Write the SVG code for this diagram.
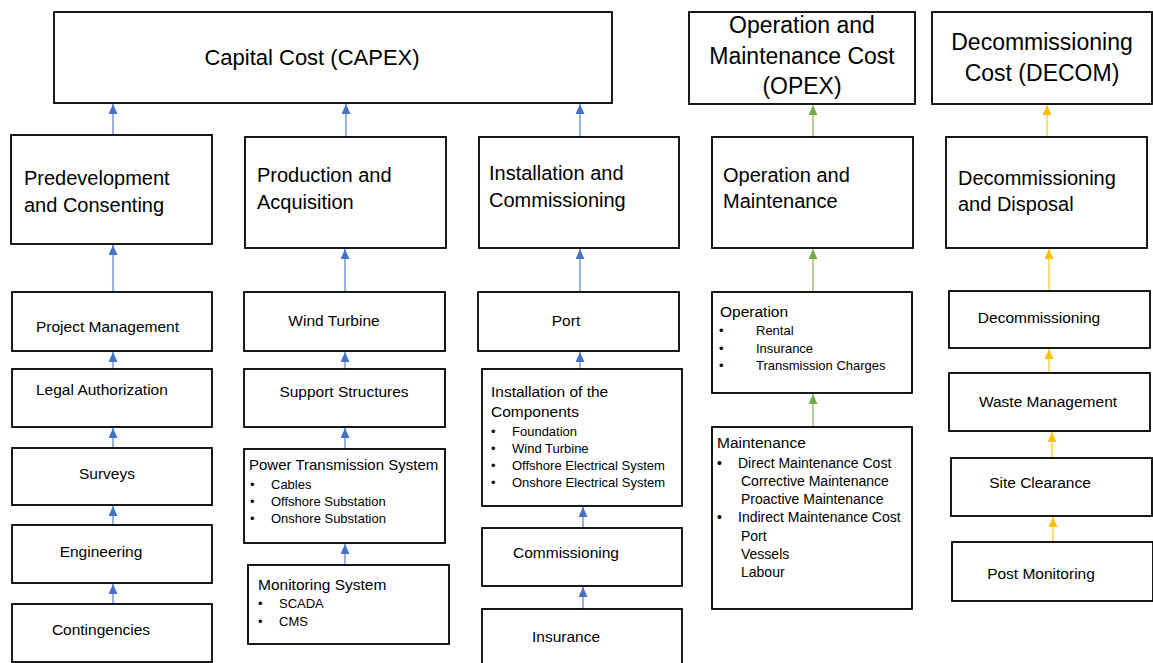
<svg xmlns="http://www.w3.org/2000/svg" width="1153" height="663" viewBox="0 0 1153 663">
<style>
.box{fill:#fff;stroke:#000;stroke-width:1.8}
text{font-family:"Liberation Sans",Arial,sans-serif;fill:#000}
.h1{font-size:22px}
.h2{font-size:23px}
.t2{font-size:20px}
.t3{font-size:15.5px}
.it{font-size:13px}
.it14{font-size:14px}
.c{text-anchor:middle}
.b{stroke:#4472C4;stroke-width:1.1;fill:none}
.g{stroke:#70AD47;stroke-width:1.1;fill:none}
.y{stroke:#FFC000;stroke-width:1.1;fill:none}
</style>
<defs>
<marker id="ab" markerUnits="userSpaceOnUse" markerWidth="10" markerHeight="10" refX="10" refY="4.5" orient="auto"><path d="M0,0 L10,4.5 L0,9 z" fill="#4472C4"/></marker>
<marker id="ag" markerUnits="userSpaceOnUse" markerWidth="10" markerHeight="10" refX="10" refY="4.5" orient="auto"><path d="M0,0 L10,4.5 L0,9 z" fill="#70AD47"/></marker>
<marker id="ay" markerUnits="userSpaceOnUse" markerWidth="10" markerHeight="10" refX="10" refY="4.5" orient="auto"><path d="M0,0 L10,4.5 L0,9 z" fill="#FFC000"/></marker>
</defs>
<rect width="1153" height="663" fill="#fff"/>

<g id="connectors">
<line class="b" x1="113" y1="135" x2="113" y2="104" marker-end="url(#ab)"/>
<line class="b" x1="346" y1="137" x2="346" y2="104" marker-end="url(#ab)"/>
<line class="b" x1="580" y1="137" x2="580" y2="104" marker-end="url(#ab)"/>
<line class="b" x1="113" y1="292" x2="113" y2="245" marker-end="url(#ab)"/>
<line class="b" x1="113" y1="369" x2="113" y2="352" marker-end="url(#ab)"/>
<line class="b" x1="113" y1="448" x2="113" y2="428" marker-end="url(#ab)"/>
<line class="b" x1="113" y1="525" x2="113" y2="506" marker-end="url(#ab)"/>
<line class="b" x1="113" y1="604" x2="113" y2="584" marker-end="url(#ab)"/>
<line class="b" x1="345" y1="292" x2="345" y2="249" marker-end="url(#ab)"/>
<line class="b" x1="345" y1="369" x2="345" y2="352" marker-end="url(#ab)"/>
<line class="b" x1="345" y1="449" x2="345" y2="428" marker-end="url(#ab)"/>
<line class="b" x1="345" y1="565" x2="345" y2="544" marker-end="url(#ab)"/>
<line class="b" x1="580" y1="292" x2="580" y2="249" marker-end="url(#ab)"/>
<line class="b" x1="580" y1="369" x2="580" y2="352" marker-end="url(#ab)"/>
<line class="b" x1="583" y1="528" x2="583" y2="507" marker-end="url(#ab)"/>
<line class="b" x1="583" y1="609" x2="583" y2="587" marker-end="url(#ab)"/>
<line class="g" x1="813" y1="137" x2="813" y2="105" marker-end="url(#ag)"/>
<line class="g" x1="813" y1="292" x2="813" y2="249" marker-end="url(#ag)"/>
<line class="g" x1="813" y1="427" x2="813" y2="394" marker-end="url(#ag)"/>
<line class="y" x1="1047" y1="137" x2="1047" y2="105" marker-end="url(#ay)"/>
<line class="y" x1="1049" y1="291" x2="1049" y2="249" marker-end="url(#ay)"/>
<line class="y" x1="1049" y1="373" x2="1049" y2="349" marker-end="url(#ay)"/>
<line class="y" x1="1052" y1="458" x2="1052" y2="432" marker-end="url(#ay)"/>
<line class="y" x1="1053" y1="542" x2="1053" y2="517" marker-end="url(#ay)"/>
</g>

<g id="capex"><rect class="box" x="54" y="12" width="558" height="91"/><text class="h1 c" x="312" y="65">Capital Cost (CAPEX)</text></g>
<g id="opex"><rect class="box" x="689" y="12" width="226" height="92"/>
<text class="h2 c" x="802" y="33">Operation and</text><text class="h2 c" x="802" y="64">Maintenance Cost</text><text class="h2 c" x="802" y="94">(OPEX)</text></g>
<g id="decom"><rect class="box" x="932" y="12" width="220" height="92"/>
<text class="h2 c" x="1042" y="50">Decommissioning</text><text class="h2 c" x="1042" y="81">Cost (DECOM)</text></g>

<g id="predev"><rect class="box" x="11" y="135" width="201" height="109"/><text class="t2" x="24" y="185">Predevelopment</text><text class="t2" x="24" y="212">and Consenting</text></g>
<g id="production"><rect class="box" x="245" y="137" width="201" height="111"/><text class="t2" x="257" y="182">Production and</text><text class="t2" x="257" y="209">Acquisition</text></g>
<g id="installation"><rect class="box" x="479" y="137" width="200" height="111"/><text class="t2" x="489" y="180">Installation and</text><text class="t2" x="489" y="207">Commissioning</text></g>
<g id="om"><rect class="box" x="712" y="137" width="201" height="111"/><text class="t2" x="723" y="182">Operation and</text><text class="t2" x="723" y="208">Maintenance</text></g>
<g id="dd"><rect class="box" x="946" y="137" width="201" height="111"/><text class="t2" x="958" y="185">Decommissioning</text><text class="t2" x="958" y="211">and Disposal</text></g>

<g id="pm"><rect class="box" x="12" y="292" width="200" height="59"/><text class="t3" x="36" y="332">Project Management</text></g>
<g id="legal"><rect class="box" x="12" y="369" width="200" height="58"/><text class="t3" x="36" y="395">Legal Authorization</text></g>
<g id="surveys"><rect class="box" x="12" y="448" width="200" height="57"/><text class="t3 c" x="107" y="479">Surveys</text></g>
<g id="engineering"><rect class="box" x="12" y="525" width="200" height="58"/><text class="t3 c" x="101" y="557">Engineering</text></g>
<g id="contingencies"><rect class="box" x="12" y="604" width="200" height="58"/><text class="t3 c" x="101" y="635">Contingencies</text></g>

<g id="windturbine"><rect class="box" x="244" y="292" width="201" height="59"/><text class="t3 c" x="334" y="326">Wind Turbine</text></g>
<g id="support"><rect class="box" x="244" y="369" width="201" height="58"/><text class="t3 c" x="344" y="397">Support Structures</text></g>
<g id="power"><rect class="box" x="244" y="449" width="201" height="94"/>
<text x="249" y="470" style="font-size:15px">Power Transmission System</text>
<text class="it" x="250" y="489">•</text><text class="it" x="271" y="489">Cables</text>
<text class="it" x="250" y="506">•</text><text class="it" x="271" y="506">Offshore Substation</text>
<text class="it" x="250" y="523">•</text><text class="it" x="271" y="523">Onshore Substation</text></g>
<g id="monitoring"><rect class="box" x="248" y="565" width="201" height="79"/>
<text class="t3" x="258" y="590">Monitoring System</text>
<text class="it" x="258" y="608">•</text><text class="it" x="279" y="608">SCADA</text>
<text class="it" x="258" y="626">•</text><text class="it" x="279" y="626">CMS</text></g>

<g id="port"><rect class="box" x="478" y="292" width="201" height="59"/><text class="t3 c" x="566" y="326">Port</text></g>
<g id="components"><rect class="box" x="482" y="369" width="200" height="137"/>
<text class="t3" x="491" y="397">Installation of the</text><text class="t3" x="491" y="417">Components</text>
<text class="it" x="491" y="436">•</text><text class="it" x="512" y="436">Foundation</text>
<text class="it" x="491" y="453">•</text><text class="it" x="512" y="453">Wind Turbine</text>
<text class="it" x="491" y="470">•</text><text class="it" x="512" y="470">Offshore Electrical System</text>
<text class="it" x="491" y="487">•</text><text class="it" x="512" y="487">Onshore Electrical System</text></g>
<g id="commissioning"><rect class="box" x="482" y="528" width="200" height="58"/><text class="t3 c" x="566" y="558">Commissioning</text></g>
<g id="insurance"><rect class="box" x="482" y="609" width="200" height="58"/><text class="t3 c" x="566" y="642">Insurance</text></g>

<g id="operation"><rect class="box" x="712" y="292" width="200" height="101"/>
<text class="t3" x="720" y="317">Operation</text>
<text class="it" x="719" y="335">•</text><text class="it" x="756" y="335">Rental</text>
<text class="it" x="719" y="353">•</text><text class="it" x="756" y="353">Insurance</text>
<text class="it" x="719" y="370">•</text><text class="it" x="756" y="370">Transmission Charges</text></g>
<g id="maintenance"><rect class="box" x="712" y="427" width="200" height="182"/>
<text class="t3" x="717" y="448">Maintenance</text>
<text class="it14" x="717" y="468">•</text><text class="it14" x="738" y="468">Direct Maintenance Cost</text>
<text class="it14" x="741" y="486">Corrective Maintenance</text>
<text class="it14" x="741" y="504">Proactive Maintenance</text>
<text class="it14" x="717" y="522">•</text><text class="it14" x="738" y="522">Indirect Maintenance Cost</text>
<text class="it14" x="741" y="541">Port</text>
<text class="it14" x="741" y="559">Vessels</text>
<text class="it14" x="741" y="577">Labour</text></g>

<g id="decommissioning"><rect class="box" x="949" y="291" width="201" height="57"/><text class="t3 c" x="1039" y="323">Decommissioning</text></g>
<g id="waste"><rect class="box" x="949" y="373" width="201" height="58"/><text class="t3 c" x="1048" y="407">Waste Management</text></g>
<g id="site"><rect class="box" x="951" y="458" width="201" height="58"/><text class="t3 c" x="1040" y="488">Site Clearance</text></g>
<g id="post"><rect class="box" x="952" y="542" width="201" height="59"/><text class="t3 c" x="1041" y="579">Post Monitoring</text></g>
</svg>
